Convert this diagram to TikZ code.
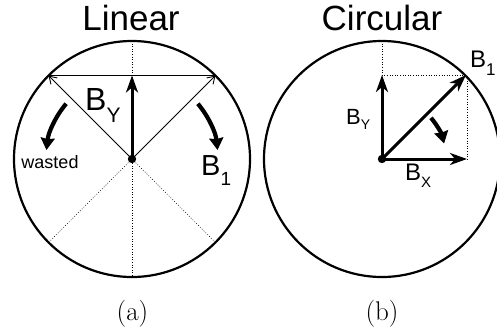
\documentclass[tikz,border=0pt]{standalone}
\usepackage{fontspec}
\newfontfamily\lab{Liberation Sans}
\usetikzlibrary{arrows.meta,calc}
\newcommand{\mysub}[3]{\raisebox{-#2pt}{\fontsize{#1}{#1}\selectfont #3}}
\tikzset{
  ring/.style={line width=2.2pt},
  dotline/.style={line width=0.7pt, dash pattern=on 0.8pt off 1.8pt},
  thinarrow/.style={line width=0.9pt, -{Straight Barb[length=7pt,width=9pt]}},
  thickarrow/.style={line width=3pt, -{Stealth[length=17pt,width=12pt,inset=5pt]}},
  turnarrow/.style={line width=4.2pt, -{Stealth[length=12pt,width=14pt,inset=1pt]}},
  lbl/.style={inner sep=0pt, anchor=base west, font=\lab},
  ttl/.style={inner sep=0pt, anchor=base, font=\lab\fontsize{35}{35}\selectfont},
  subcap/.style={inner sep=0pt, anchor=base, font=\fontsize{27}{27}\selectfont},
}
\begin{document}
\begin{tikzpicture}[x=1pt,y=1pt]
\useasboundingbox (0,0) rectangle (497,330);
\clip (0,0) rectangle (497,330);
% ---------- left: Linear ----------
\coordinate (L) at (132,171);
\coordinate (Ltop) at (132,289);
\coordinate (Lbot) at (132,53);
\coordinate (Lul) at ($(L)+(135:118)$);
\coordinate (Lur) at ($(L)+(45:118)$);
\coordinate (Lll) at ($(L)+(225:118)$);
\coordinate (Llr) at ($(L)+(315:118)$);
\coordinate (LBy) at (132,254.5);
\draw[ring] (L) circle (118);
\draw[dotline] (Ltop) -- (Lbot);
\draw[dotline] (L) -- (Lll);
\draw[dotline] (L) -- (Llr);
\draw[line width=0.9pt] (Lul) -- (Lur);
\draw[thinarrow] (L) -- (Lul);
\draw[thinarrow] (L) -- (Lur);
\draw[thickarrow] (L) -- (LBy);
\fill (L) circle (4.2);
\draw[turnarrow] ($(L)+(140:86)$) arc[start angle=140, end angle=174, radius=86];
\draw[turnarrow] ($(L)+(40:86)$) arc[start angle=40, end angle=6, radius=86];
\node[lbl, font=\lab\fontsize{32}{32}\selectfont] (lby) at (85,220) {B\mysub{21}{12}{Y}};
\node[lbl, font=\lab\fontsize{29}{29}\selectfont] (lb1) at (201,155) {B\mysub{19}{10}{1}};
\node[inner sep=0pt, anchor=base, font=\lab\fontsize{18}{18}\selectfont] (waste) at (50,162) {wasted};
\node[ttl] (tlin) at (131,299) {Linear};
\node[subcap] (ca) at (132.5,10) {(a)};
% ---------- right: Circular ----------
\coordinate (R) at (382,171);
\coordinate (Rtop) at (382,289);
\coordinate (RBy) at (382,255);
\coordinate (RB1) at (466,255);
\coordinate (RBx) at (467,171);
\coordinate (Rcorner) at (467,255);
\draw[ring] (R) circle (118);
\draw[dotline] (Rtop) -- (RBy) -- (Rcorner) -- (RBx);
\draw[thickarrow] (R) -- (RBy);
\draw[thickarrow] (R) -- (RBx);
\draw[thickarrow] (R) -- (RB1);
\fill (R) circle (4.2);
\draw[turnarrow] ($(R)+(40:64)$) arc[start angle=40, end angle=14, radius=64];
\node[lbl, font=\lab\fontsize{24}{24}\selectfont] (rb1) at (470,262) {B\mysub{17}{8}{1}};
\node[lbl, font=\lab\fontsize{22}{22}\selectfont] (rby) at (346,206) {B\mysub{14}{5}{Y}};
\node[lbl, font=\lab\fontsize{24}{24}\selectfont] (rbx) at (405,150) {B\mysub{15}{7}{X}};
\node[ttl] (tcir) at (382,299) {Circular};
\node[subcap] (cb) at (382,10) {(b)};
\end{tikzpicture}
\end{document}
